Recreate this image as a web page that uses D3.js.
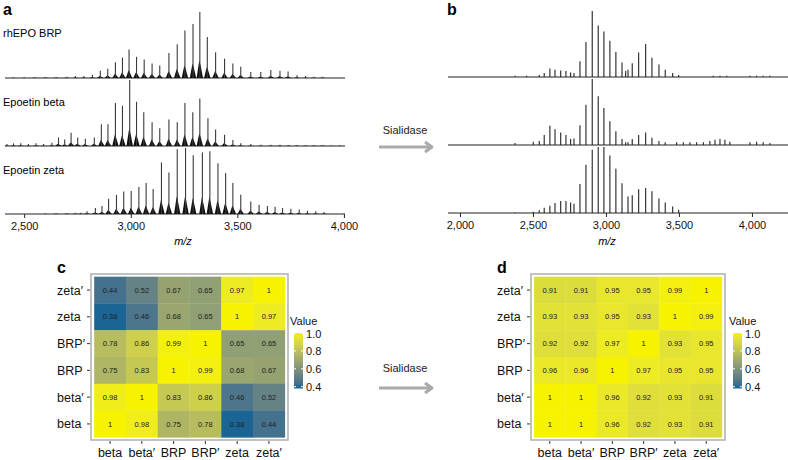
<!DOCTYPE html>
<html>
<head>
<meta charset="UTF-8" />
<style>
  body { margin: 0; background: #fff; }
  svg { display: block; font-family: "Liberation Sans", Arial, Helvetica, sans-serif; }
</style>
</head>
<body>
<svg id="fig" width="788" height="460"></svg>
<script src="https://d3js.org/d3.v7.min.js"></script>
<script>
// ---- spectra peaks: [m/z, relative intensity] ----
const specBRP = [[2450,0.01],[2500,0.01],[2550,0.012],[2600,0.015],[2650,0.015],[2700,0.02],[2740,0.03],[2780,0.03],[2820,0.05],
  [2857,0.11],[2892,0.14],[2928,0.24],[2961,0.31],[2992,0.43],[3027,0.32],[3063,0.28],[3100,0.22],[3136,0.19],
  [3179,0.38],[3218,0.51],[3254,0.72],[3292,0.82],[3324,1.0],[3359,0.62],[3398,0.39],[3440,0.29],[3479,0.22],
  [3516,0.17],[3563,0.09],[3610,0.09],[3657,0.12],[3700,0.11],[3738,0.10],[3780,0.04],[3820,0.03],[3860,0.02],[3900,0.02]];
const specBeta = [[2419,0.03],[2450,0.04],[2484,0.04],[2520,0.03],[2556,0.04],[2591,0.03],[2630,0.05],[2661,0.13],
  [2690,0.10],[2720,0.20],[2751,0.13],[2787,0.11],[2829,0.13],[2862,0.33],[2893,0.33],[2928,0.65],[2961,0.61],
  [2995,1.0],[3027,0.67],[3061,0.51],[3100,0.36],[3136,0.27],[3179,0.40],[3218,0.36],[3254,0.65],[3291,0.51],
  [3324,0.72],[3362,0.42],[3398,0.25],[3440,0.17],[3479,0.09],[3516,0.04],[3563,0.03],[3610,0.02],[3657,0.02],
  [3700,0.02],[3740,0.015],[3780,0.015],[3820,0.015],[3860,0.015],[3900,0.015],[3940,0.01],[3980,0.01]];
const specZeta = [[2600,0.01],[2650,0.012],[2700,0.015],[2740,0.02],[2765,0.02],[2795,0.04],[2834,0.09],[2865,0.12],
  [2896,0.23],[2933,0.29],[2967,0.34],[3002,0.35],[3038,0.41],[3072,0.47],[3105,0.38],[3144,0.78],[3179,0.63],
  [3218,0.98],[3257,1.0],[3293,0.89],[3336,0.93],[3371,0.95],[3409,0.77],[3445,0.62],[3479,0.47],[3516,0.29],
  [3563,0.19],[3602,0.14],[3641,0.12],[3677,0.11],[3712,0.09],[3751,0.08],[3790,0.07],[3829,0.05],[3868,0.04],[3907,0.03]];

const specBRPdesial = [[2377,0.02],[2457,0.02],[2543,0.03],[2577,0.06],[2616,0.13],[2651,0.11],[2690,0.10],[2726,0.09],
  [2758,0.07],[2781,0.06],[2822,0.24],[2863,0.53],[2906,1.0],[2947,0.78],[2986,0.69],[3027,0.55],[3068,0.38],
  [3110,0.22],[3135,0.09],[3151,0.11],[3180,0.21],[3224,0.37],[3272,0.50],[3315,0.29],[3363,0.19],[3406,0.11],
  [3457,0.06],[3498,0.03],[3735,0.02],[3781,0.02],[3827,0.02],[3986,0.02],[4032,0.02],[4077,0.02],[4123,0.02]];
const specBetaDesial = [[2377,0.03],[2502,0.05],[2543,0.06],[2577,0.15],[2616,0.29],[2651,0.24],[2690,0.19],[2726,0.15],
  [2758,0.09],[2781,0.10],[2822,0.30],[2863,0.61],[2906,1.0],[2947,0.74],[2986,0.56],[3027,0.36],[3068,0.21],
  [3110,0.09],[3135,0.04],[3151,0.04],[3180,0.09],[3224,0.15],[3272,0.19],[3315,0.11],[3363,0.06],[3406,0.04],
  [3484,0.04],[3530,0.04],[3575,0.04],[3621,0.04],[3667,0.04],[3712,0.06],[3747,0.08],[3781,0.09],[3815,0.08],
  [3849,0.05],[3986,0.04],[4032,0.05],[4077,0.04],[4123,0.03]];
const specZetaDesial = [[2377,0.01],[2502,0.02],[2543,0.04],[2577,0.08],[2616,0.11],[2651,0.15],[2690,0.18],[2726,0.18],
  [2758,0.16],[2781,0.14],[2822,0.44],[2863,0.73],[2906,0.96],[2947,1.0],[2986,1.0],[3027,0.87],[3068,0.67],
  [3110,0.45],[3151,0.25],[3180,0.27],[3224,0.36],[3272,0.38],[3315,0.33],[3363,0.22],[3406,0.16],[3457,0.10],[3498,0.05]];

const ticksA = [2500, 3000, 3500, 4000];
const ticksB = [2000, 2500, 3000, 3500, 4000];
const namesA = ["rhEPO BRP", "Epoetin beta", "Epoetin zeta"];

// ---- heatmaps ----
const hmCols = ["beta", "beta\u2032", "BRP", "BRP\u2032", "zeta", "zeta\u2032"];
const hmRows = ["zeta\u2032", "zeta", "BRP\u2032", "BRP", "beta\u2032", "beta"]; // top to bottom
const valsC = [
  [0.44, 0.52, 0.67, 0.65, 0.97, 1],
  [0.38, 0.46, 0.68, 0.65, 1, 0.97],
  [0.78, 0.86, 0.99, 1, 0.65, 0.65],
  [0.75, 0.83, 1, 0.99, 0.68, 0.67],
  [0.98, 1, 0.83, 0.86, 0.46, 0.52],
  [1, 0.98, 0.75, 0.78, 0.38, 0.44]
];
const valsD = [
  [0.91, 0.91, 0.95, 0.95, 0.99, 1],
  [0.93, 0.93, 0.95, 0.93, 1, 0.99],
  [0.92, 0.92, 0.97, 1, 0.93, 0.95],
  [0.96, 0.96, 1, 0.97, 0.95, 0.95],
  [1, 1, 0.96, 0.92, 0.93, 0.91],
  [1, 1, 0.96, 0.92, 0.93, 0.91]
];
const legendTicks = [0.4, 0.6, 0.8, 1.0];

const svg = d3.select("#fig");
const fmt = d3.format(",");

// panel letters
[["a", 3, 15], ["b", 447, 15], ["c", 57, 273], ["d", 497, 273]].forEach(p => {
  svg.append("text").attr("x", p[1]).attr("y", p[2]).text(p[0])
    .attr("font-size", 16).attr("font-weight", "bold");
});

// ---------- spectra ----------
const xA = d3.scaleLinear().domain([2410, 4005]).range([5, 345]);
const xB = d3.scaleLinear().domain([1918, 4247]).range([448, 788]);

function drawSpectrum(g, x, data, base, withBase) {
  const y = d3.scaleLinear().domain([0, 1]).range([base, base - 66]);
  g.append("line").attr("x1", x.range()[0]).attr("x2", x.range()[1])
    .attr("y1", base).attr("y2", base).attr("stroke", "#222").attr("stroke-width", 1.2);
  if (withBase) {
    // dark cluster at the foot of each peak
    g.append("g").selectAll("path").data(data).join("path")
      .attr("d", d => {
        const cx = x(d[0]), h = (base - y(d[1])) * 0.27;
        return `M${cx - 3.2},${base}L${cx - 1.6},${base - h * 0.6}L${cx - 0.5},${base - h}L${cx + 0.8},${base - h * 0.7}L${cx + 3.2},${base}Z`;
      })
      .attr("fill", "#111");
  }
  g.append("g").selectAll("line").data(data).join("line")
    .attr("x1", d => x(d[0])).attr("x2", d => x(d[0]))
    .attr("y1", base).attr("y2", d => y(d[1]))
    .attr("stroke", withBase ? "#3a3a3a" : "#222").attr("stroke-width", 1.1);
}

const gA = svg.append("g");
[specBRP, specBeta, specZeta].forEach((s, i) => drawSpectrum(gA, xA, s, 78 + i * 68, true));
namesA.forEach((n, i) => {
  gA.append("text").attr("x", 3).attr("y", 37 + i * 68.5).text(n).attr("font-size", 11);
});
const gB = svg.append("g");
[specBRPdesial, specBetaDesial, specZetaDesial].forEach((s, i) => drawSpectrum(gB, xB, s, 77 + i * 68, false));

function xAxis(x, ticks, base, cx) {
  const ax = d3.axisBottom(x).tickValues(ticks).tickFormat(fmt).tickSize(4).tickPadding(4);
  const g = svg.append("g").attr("transform", `translate(0,${base})`).call(ax);
  g.select(".domain").remove();
  g.selectAll("text").attr("font-size", 11).attr("font-family", "inherit").attr("fill", "#111");
  g.selectAll("line").attr("stroke", "#222");
  svg.append("text").attr("x", cx).attr("y", 245).attr("text-anchor", "middle")
    .attr("font-size", 11).attr("font-style", "italic").text("m/z");
}
xAxis(xA, ticksA, 214, 183);
xAxis(xB, ticksB, 213, 607);

// ---------- sialidase arrows ----------
function arrow(yText, yArrow) {
  svg.append("text").attr("x", 405).attr("y", yText).attr("text-anchor", "middle")
    .attr("font-size", 11).attr("fill", "#222").text("Sialidase");
  svg.append("path")
    .attr("d", `M379,${yArrow}L432,${yArrow}M425,${yArrow - 5}L432,${yArrow}L425,${yArrow + 5}`)
    .attr("fill", "none").attr("stroke", "#aaa").attr("stroke-width", 3)
    .attr("stroke-linejoin", "round");
}
arrow(134, 147);
arrow(372, 388);

// ---------- heatmaps ----------
const color = d3.scaleLinear().domain([0.38, 1]).range(["#1a6594", "#f6f200"])
  .interpolate(d3.interpolateLab);

const defs = svg.append("defs");
const grad = defs.append("linearGradient").attr("id", "valgrad")
  .attr("x1", 0).attr("x2", 0).attr("y1", 1).attr("y2", 0);
d3.range(0, 1.0001, 0.1).forEach(t => {
  grad.append("stop").attr("offset", t).attr("stop-color", color(0.38 + t * 0.62));
});

function heatmap(vals, left, right, labelX, legX) {
  const top = 274, bottom = 440;
  const x = d3.scaleBand().domain(hmCols).range([left, right]).paddingOuter(0.1).paddingInner(0);
  const y = d3.scaleBand().domain(hmRows).range([top, bottom]).paddingOuter(0.1).paddingInner(0);
  const g = svg.append("g");
  const cells = [];
  vals.forEach((row, i) => row.forEach((v, j) => cells.push({ r: hmRows[i], c: hmCols[j], v })));
  g.selectAll("rect.cell").data(cells).join("rect").attr("class", "cell")
    .attr("x", d => x(d.c)).attr("y", d => y(d.r))
    .attr("width", x.bandwidth() + 0.3).attr("height", y.bandwidth() + 0.3)
    .attr("fill", d => color(d.v));
  g.selectAll("text.val").data(cells).join("text").attr("class", "val")
    .attr("x", d => x(d.c) + x.bandwidth() / 2).attr("y", d => y(d.r) + y.bandwidth() / 2 + 2.6)
    .attr("text-anchor", "middle").attr("font-size", 7.5).attr("fill", "#222")
    .text(d => d.v);
  g.append("rect").attr("x", left).attr("y", top).attr("width", right - left).attr("height", bottom - top)
    .attr("fill", "none").attr("stroke", "#b3b3b3").attr("stroke-width", 1.6);
  // axes
  hmRows.forEach(r => {
    const cy = y(r) + y.bandwidth() / 2;
    g.append("text").attr("x", labelX).attr("y", cy + 4.5).attr("font-size", 12.5).attr("fill", "#111").text(r);
    g.append("line").attr("x1", left - 4).attr("x2", left - 1).attr("y1", cy).attr("y2", cy)
      .attr("stroke", "#333").attr("stroke-width", 1);
  });
  hmCols.forEach(c => {
    const cx = x(c) + x.bandwidth() / 2;
    g.append("text").attr("x", cx).attr("y", 457).attr("text-anchor", "middle")
      .attr("font-size", 12.5).attr("fill", "#111").text(c);
    g.append("line").attr("x1", cx).attr("x2", cx).attr("y1", bottom + 1).attr("y2", bottom + 4)
      .attr("stroke", "#333").attr("stroke-width", 1);
  });
  // legend
  const ly = d3.scaleLinear().domain([0.38, 1]).range([388.5, 333]);
  g.append("text").attr("x", legX - 4).attr("y", 325).attr("font-size", 11).attr("fill", "#111").text("Value");
  g.append("rect").attr("x", legX).attr("y", ly(1)).attr("width", 9).attr("height", ly(0.38) - ly(1))
    .attr("fill", "url(#valgrad)");
  legendTicks.forEach(t => {
    g.append("line").attr("x1", legX).attr("x2", legX + 2).attr("y1", ly(t)).attr("y2", ly(t)).attr("stroke", "#fff");
    g.append("line").attr("x1", legX + 7).attr("x2", legX + 9).attr("y1", ly(t)).attr("y2", ly(t)).attr("stroke", "#fff");
    g.append("text").attr("x", legX + 12).attr("y", ly(t) + 4.5).attr("font-size", 11).attr("fill", "#111")
      .text(d3.format(".1f")(t));
  });
}
heatmap(valsC, 91, 288, 57, 294);
heatmap(valsD, 531, 725, 497, 733);
</script>
</body>
</html>
